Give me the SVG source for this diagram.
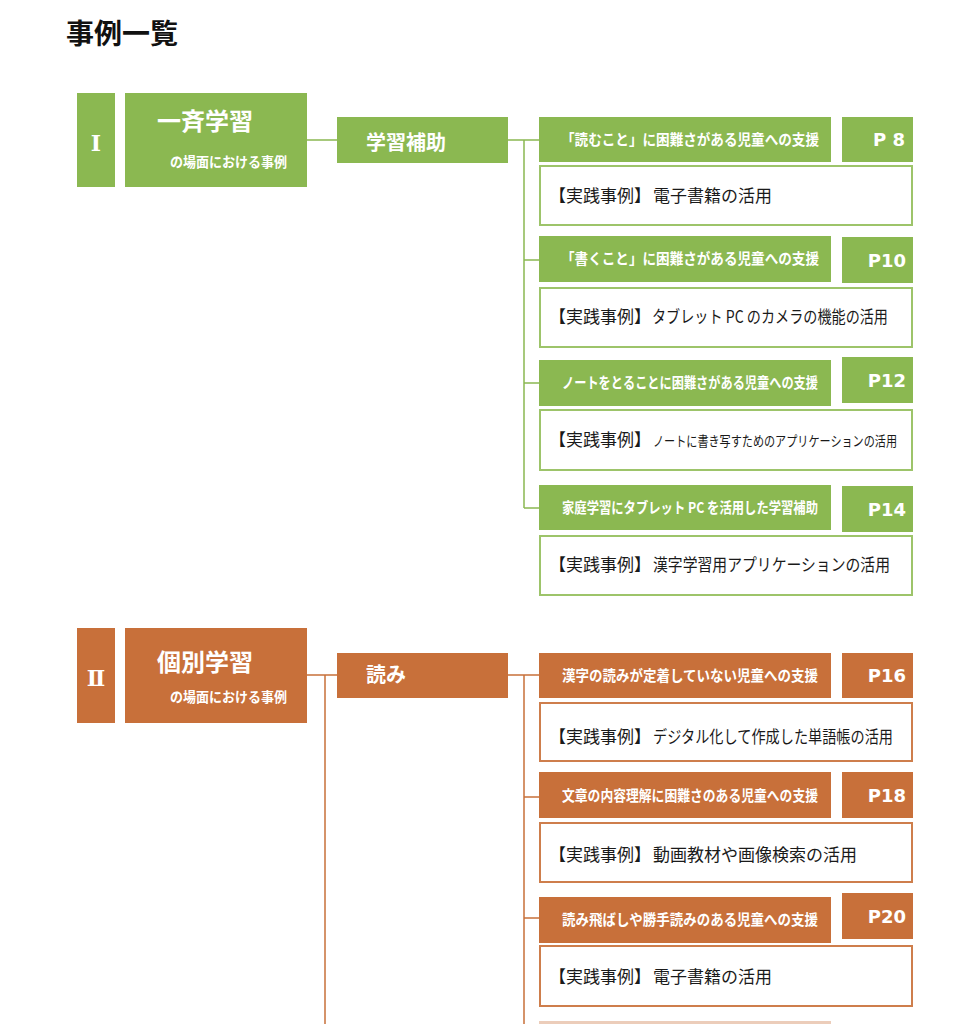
<svg xmlns="http://www.w3.org/2000/svg" width="967" height="1024" viewBox="0 0 967 1024">
<style>
.jp{font-family:"Noto Sans CJK JP","Noto Sans CJK SC",sans-serif}
.gfill{fill:#8BB851}
.ofill{fill:#C8703A}
.gbox{fill:#fff;stroke:#9DC46A;stroke-width:2}
.obox{fill:#fff;stroke:#CE7E4C;stroke-width:2}
.hd{font-family:"Noto Sans CJK JP","Noto Sans CJK SC",sans-serif;font-size:15px;font-weight:bold;fill:#fff}
.ex{font-family:"Noto Sans CJK JP","Noto Sans CJK SC",sans-serif;font-size:17px;fill:#1a1a1a}
.pg{font-family:"DejaVu Sans",Verdana,sans-serif;font-size:18px;font-weight:bold;fill:#fff;text-anchor:end}
.rn{font-family:"DejaVu Serif","Liberation Serif","Noto Sans CJK JP",serif;font-size:22px;font-weight:bold;fill:#fff;text-anchor:middle}
.tt{font-family:"Noto Sans CJK JP","Noto Sans CJK SC",sans-serif;font-size:24px;font-weight:bold;fill:#fff}
.st{font-family:"Noto Sans CJK JP","Noto Sans CJK SC",sans-serif;font-size:14px;font-weight:bold;fill:#fff}
.cat{font-family:"Noto Sans CJK JP","Noto Sans CJK SC",sans-serif;font-size:20px;font-weight:bold;fill:#fff}
.gl{stroke:#8BB851;stroke-width:1.5;fill:none}
.ol{stroke:#C8703A;stroke-width:1.5;fill:none}
</style>
<rect width="967" height="1024" fill="#fff"/>
<text id="title" x="66" y="44" class="jp" font-size="28" font-weight="bold" fill="#111">事例一覧</text>

<g id="connectors">
  <path class="gl" d="M307 140H337M508 140H540M524 140V508M524 260H540M524 383H540M524 508H540"/>
  <path class="ol" d="M307 675H337M325 675V1024M508 675H540M524 675V1024M524 797H540M524 918H540"/>
</g>

<g id="sec1-num"><rect class="gfill" x="77" y="93" width="38" height="94"/><text class="rn" x="96" y="151">Ⅰ</text></g>
<g id="sec1-title"><rect class="gfill" x="125" y="93" width="182" height="94"/>
  <text class="tt" x="157" y="130">一斉学習</text>
  <text class="st" x="170" y="167" textLength="117" lengthAdjust="spacingAndGlyphs">の場面における事例</text></g>
<g id="sec1-cat"><rect class="gfill" x="337" y="117" width="171" height="46"/><text class="cat" x="366" y="150">学習補助</text></g>

<g id="g1">
  <rect class="gfill" x="539" y="117" width="292" height="45"/>
  <text class="hd" x="561" y="145" textLength="258" lengthAdjust="spacingAndGlyphs">「読むこと」に困難さがある児童への支援</text>
  <rect class="gfill" x="842" y="117" width="71" height="45"/><text class="pg" x="905" y="146">P 8</text>
  <rect class="gbox" x="540" y="166" width="372" height="59"/>
  <text class="ex" x="549" y="202">【実践事例】<tspan x="653">電子書籍の活用</tspan></text>
</g>
<g id="g2">
  <rect class="gfill" x="539" y="236" width="292" height="46"/>
  <text class="hd" x="561" y="264" textLength="258" lengthAdjust="spacingAndGlyphs">「書くこと」に困難さがある児童への支援</text>
  <rect class="gfill" x="842" y="237" width="71" height="46"/><text class="pg" x="906" y="267">P10</text>
  <rect class="gbox" x="540" y="288" width="372" height="59"/>
  <text class="ex" x="549" y="323">【実践事例】<tspan x="652" textLength="236" lengthAdjust="spacingAndGlyphs">タブレット PC のカメラの機能の活用</tspan></text>
</g>
<g id="g3">
  <rect class="gfill" x="539" y="360" width="292" height="46"/>
  <text class="hd" x="562" y="388" font-size="13.5" textLength="256" lengthAdjust="spacingAndGlyphs">ノートをとることに困難さがある児童への支援</text>
  <rect class="gfill" x="842" y="357" width="71" height="46"/><text class="pg" x="906" y="387">P12</text>
  <rect class="gbox" x="540" y="410" width="372" height="60"/>
  <text class="ex" x="549" y="446">【実践事例】<tspan x="653" font-size="14" textLength="244" lengthAdjust="spacingAndGlyphs">ノートに書き写すためのアプリケーションの活用</tspan></text>
</g>
<g id="g4">
  <rect class="gfill" x="539" y="485" width="292" height="45"/>
  <text class="hd" x="562" y="513" font-size="13.5" textLength="256" lengthAdjust="spacingAndGlyphs">家庭学習にタブレット PC を活用した学習補助</text>
  <rect class="gfill" x="842" y="486" width="71" height="46"/><text class="pg" x="906" y="516">P14</text>
  <rect class="gbox" x="540" y="536" width="372" height="59"/>
  <text class="ex" x="549" y="571">【実践事例】<tspan x="653" textLength="237" lengthAdjust="spacingAndGlyphs">漢字学習用アプリケーションの活用</tspan></text>
</g>

<g id="sec2-num"><rect class="ofill" x="77" y="628" width="38" height="95"/><text class="rn" x="96" y="686">Ⅱ</text></g>
<g id="sec2-title"><rect class="ofill" x="125" y="628" width="182" height="95"/>
  <text class="tt" x="157" y="671">個別学習</text>
  <text class="st" x="170" y="702" textLength="117" lengthAdjust="spacingAndGlyphs">の場面における事例</text></g>
<g id="sec2-cat"><rect class="ofill" x="337" y="653" width="171" height="45"/><text class="cat" x="366" y="682">読み</text></g>

<g id="o1">
  <rect class="ofill" x="539" y="653" width="292" height="45"/>
  <text class="hd" x="562" y="681" textLength="256" lengthAdjust="spacingAndGlyphs">漢字の読みが定着していない児童への支援</text>
  <rect class="ofill" x="842" y="653" width="71" height="45"/><text class="pg" x="906" y="682">P16</text>
  <rect class="obox" x="540" y="703" width="372" height="58"/>
  <text class="ex" x="549" y="743">【実践事例】<tspan x="653" textLength="240" lengthAdjust="spacingAndGlyphs">デジタル化して作成した単語帳の活用</tspan></text>
</g>
<g id="o2">
  <rect class="ofill" x="539" y="772" width="292" height="46"/>
  <text class="hd" x="562" y="801" font-size="14.5" textLength="256" lengthAdjust="spacingAndGlyphs">文章の内容理解に困難さのある児童への支援</text>
  <rect class="ofill" x="842" y="772" width="71" height="46"/><text class="pg" x="906" y="802">P18</text>
  <rect class="obox" x="540" y="823" width="372" height="59"/>
  <text class="ex" x="549" y="861">【実践事例】<tspan x="653">動画教材や画像検索の活用</tspan></text>
</g>
<g id="o3">
  <rect class="ofill" x="539" y="897" width="292" height="46"/>
  <text class="hd" x="562" y="925" textLength="256" lengthAdjust="spacingAndGlyphs">読み飛ばしや勝手読みのある児童への支援</text>
  <rect class="ofill" x="842" y="893" width="71" height="46"/><text class="pg" x="906" y="923">P20</text>
  <rect class="obox" x="540" y="946" width="372" height="60"/>
  <text class="ex" x="549" y="983">【実践事例】<tspan x="653">電子書籍の活用</tspan></text>
</g>
<g id="o4"><rect class="ofill" x="539" y="1021" width="292" height="10" opacity="0.35"/></g>
</svg>
